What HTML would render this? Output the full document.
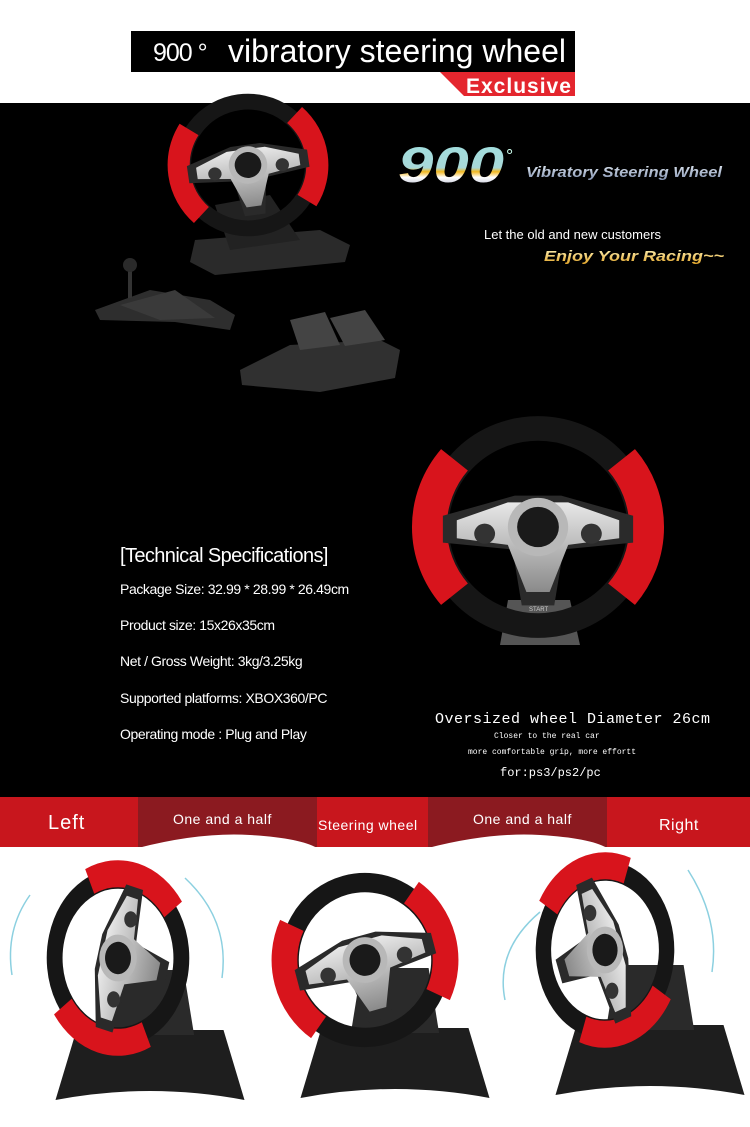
<!DOCTYPE html>
<html><head><meta charset="utf-8"><style>
html,body{margin:0;padding:0;background:#fff}
body{width:750px;height:1127px;position:relative;overflow:hidden;font-family:"Liberation Sans",sans-serif}
</style></head><body>
<svg width="750" height="1127" style="position:absolute;left:0;top:0">
<defs>
<linearGradient id="silver" x1="0" y1="0" x2="0" y2="1"><stop offset="0" stop-color="#e8e8e8"/><stop offset="1" stop-color="#8a8a8a"/></linearGradient>
<linearGradient id="g900" x1="0" y1="0" x2="0" y2="1"><stop offset="0" stop-color="#9fe0e0"/><stop offset="0.55" stop-color="#a8d8d8"/><stop offset="0.62" stop-color="#f3b820"/><stop offset="0.72" stop-color="#fff"/><stop offset="1" stop-color="#8a90b0"/></linearGradient>
<linearGradient id="gvib" x1="0" y1="0" x2="0" y2="1"><stop offset="0" stop-color="#e0e8f0"/><stop offset="1" stop-color="#8090b0"/></linearGradient>
<linearGradient id="genj" x1="0" y1="0" x2="0" y2="1"><stop offset="0" stop-color="#fff6c0"/><stop offset="1" stop-color="#e0a020"/></linearGradient>
<g id="wheel">
<circle r="88" fill="none" stroke="#161616" stroke-width="22"/>
<path d="M -72 -60 A 94 94 0 0 0 -72 60" fill="none" stroke="#d8141c" stroke-width="30"/>
<path d="M 72 -60 A 94 94 0 0 1 72 60" fill="none" stroke="#d8141c" stroke-width="30"/>
<path d="M -82 -10 L -20 -28 L 20 -28 L 82 -10 L 82 14 L 22 20 L 14 70 L -14 70 L -22 20 L -82 14 Z" fill="#2a2a2a"/>
<path d="M -70 -6 L -26 -22 L 26 -22 L 70 -6 L 70 10 L 26 16 L 10 58 L -10 58 L -26 16 L -70 10 Z" fill="url(#silver)"/>
<circle r="26" fill="#b8b8b8"/>
<circle r="18" fill="#1a1a1a"/>
<circle cx="-46" cy="6" r="9" fill="#333"/><circle cx="46" cy="6" r="9" fill="#333"/>
</g>
<g id="base">
<path d="M -70 -30 L 70 -30 L 90 40 Q 0 22 -90 40 Z" fill="#1e1e1e"/>
<path d="M -32 -90 L 32 -90 L 42 -25 L -42 -25 Z" fill="#2a2a2a"/>
</g>
</defs>
<rect x="131" y="31" width="444" height="41" fill="#000"/>
<polygon points="440,72 575,72 575,96 464,96" fill="#e4262e"/>
<text x="153" y="61" fill="#fff" font-size="25" font-family="Liberation Sans" letter-spacing="-1">900 °</text>
<text x="228" y="62" fill="#fff" font-size="32" font-family="Liberation Sans" lengthAdjust="spacingAndGlyphs" textLength="338">vibratory steering wheel</text>
<text x="466" y="93" fill="#fff" font-size="21" font-weight="bold" font-family="Liberation Sans" letter-spacing="1">Exclusive</text>
<rect x="0" y="103" width="750" height="695" fill="#000"/>
<text x="398" y="182" fill="url(#g900)" font-size="50" font-weight="bold" font-style="italic" font-family="Liberation Sans" lengthAdjust="spacingAndGlyphs" textLength="106">900</text>
<text x="506" y="162" fill="#cfe" font-size="18" font-family="Liberation Sans">°</text>
<text x="526" y="177" fill="url(#gvib)" font-size="15" font-weight="bold" font-style="italic" font-family="Liberation Sans" lengthAdjust="spacingAndGlyphs" textLength="196">Vibratory Steering Wheel</text>
<text x="484" y="239" fill="#fff" font-size="13" font-family="Liberation Sans">Let the old and new customers</text>
<text x="544" y="261" fill="url(#genj)" font-size="15" font-weight="bold" font-style="italic" font-family="Liberation Sans" lengthAdjust="spacingAndGlyphs" textLength="180">Enjoy Your Racing~~</text>
<path d="M 195 240 L 320 230 L 350 245 L 345 262 L 215 275 L 190 262 Z" fill="#2a2a2a"/>
<path d="M 215 205 L 270 195 L 300 240 L 230 250 Z" fill="#222"/>
<use href="#wheel" transform="translate(248,165) scale(0.74,0.72) rotate(-8)"/>
<path d="M 95 310 L 150 290 L 210 300 L 235 315 L 230 330 L 175 322 L 100 320 Z" fill="#2e2e2e"/>
<path d="M 120 305 L 175 290 L 215 318 L 160 320 Z" fill="#3a3a3a"/>
<rect x="128" y="268" width="4" height="30" fill="#333"/><circle cx="130" cy="265" r="7" fill="#2a2a2a"/>
<path d="M 240 370 L 290 345 L 380 340 L 400 350 L 395 378 L 320 392 L 242 385 Z" fill="#303030"/>
<path d="M 290 320 L 325 312 L 340 345 L 300 350 Z" fill="#444"/>
<path d="M 330 318 L 365 310 L 385 340 L 345 346 Z" fill="#444"/>
<path d="M 508 600 L 570 600 L 580 645 L 500 645 Z" fill="#555"/>
<use href="#wheel" transform="translate(538,527) scale(1.16,1.12)"/>
<text x="529" y="611" fill="#ccc" font-size="6" font-family="Liberation Sans">START</text>
<text x="120" y="562" fill="#fff" font-size="20" font-family="Liberation Sans" letter-spacing="-0.6">[Technical Specifications]</text>
<g fill="#fff" font-size="14" font-family="Liberation Sans" letter-spacing="-0.4">
<text x="120" y="594">Package Size: 32.99 * 28.99 * 26.49cm</text>
<text x="120" y="630">Product size: 15x26x35cm</text>
<text x="120" y="666">Net / Gross Weight: 3kg/3.25kg</text>
<text x="120" y="703">Supported platforms: XBOX360/PC</text>
<text x="120" y="739">Operating mode : Plug and Play</text>
</g>
<g fill="#fff" font-family="Liberation Mono">
<text x="435" y="723" font-size="15" textLength="275">Oversized wheel Diameter 26cm</text>
<text x="494" y="738" font-size="8">Closer to the real car</text>
<text x="468" y="754" font-size="8">more comfortable grip, more effortt</text>
<text x="500" y="776" font-size="12">for:ps3/ps2/pc</text>
</g>
<rect x="0" y="797" width="750" height="50" fill="#c8161d"/>
<rect x="138" y="797" width="179" height="50" fill="#8b1a20"/>
<rect x="428" y="797" width="179" height="50" fill="#8b1a20"/>
<path d="M 138 848 Q 200 832 250 835 Q 300 838 317 848 Z" fill="#fff"/>
<path d="M 428 848 Q 490 832 540 835 Q 590 838 607 848 Z" fill="#fff"/>
<g fill="#fff" font-family="Liberation Sans">
<text x="48" y="829" font-size="20" letter-spacing="1">Left</text>
<text x="173" y="824" font-size="14" letter-spacing="0.5">One and a half</text>
<text x="318" y="830" font-size="14" letter-spacing="0.5">Steering wheel</text>
<text x="473" y="824" font-size="14" letter-spacing="0.5">One and a half</text>
<text x="659" y="830" font-size="16" letter-spacing="0.5">Right</text>
</g>
<use href="#base" transform="translate(150,1060) scale(1.05,1)"/>
<use href="#wheel" transform="translate(118,958) scale(0.72,0.9) rotate(-75)"/>
<use href="#base" transform="translate(395,1058) scale(1.05,1)"/>
<use href="#wheel" transform="translate(365,960) scale(0.86,0.88) rotate(-15)"/>
<use href="#base" transform="translate(650,1055) scale(1.05,1)"/>
<use href="#wheel" transform="translate(605,950) scale(0.7,0.9) rotate(70)"/>
<path d="M 30 895 Q 5 930 12 975" fill="none" stroke="#8cd0e0" stroke-width="1.5"/>
<path d="M 185 878 Q 230 920 222 978" fill="none" stroke="#8cd0e0" stroke-width="1.5"/>
<path d="M 540 912 Q 495 950 505 1000" fill="none" stroke="#8cd0e0" stroke-width="1.5"/>
<path d="M 688 870 Q 720 920 712 972" fill="none" stroke="#8cd0e0" stroke-width="1.5"/>
</svg>
</body></html>
